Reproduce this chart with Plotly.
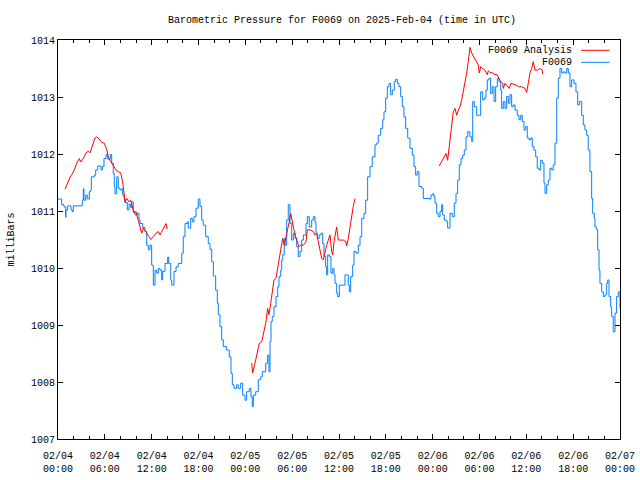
import pandas as pd
import plotly.graph_objects as go

# Hours after 2025-02-04 00:00 UTC, and pressure in millibars
obs_hours = [0.0, 0.47, 0.77, 0.99, 1.02, 1.24, 1.45, 1.67, 1.83, 1.96, 3.04, 3.11, 3.24, 3.33, 3.55, 3.75, 4.01, 4.19, 4.27, 4.65,
             4.83, 5.09, 5.38, 5.51, 5.68, 5.89, 6.15, 6.37, 6.6, 6.7, 6.88, 7.08, 7.21, 7.30, 7.52, 7.72, 7.94, 8.16, 8.29, 8.46,
             8.58, 8.88, 9.10, 9.31, 9.44, 9.65, 9.86, 10.16, 10.38, 10.50, 10.85, 11.15, 11.36, 11.57, 11.79, 12.00, 12.21, 12.43, 12.64, 12.85,
             13.07, 13.28, 13.41, 13.71, 14.05, 14.18, 14.44, 14.57, 14.86, 15.12, 15.41, 15.85, 16.05, 16.27, 16.56, 16.69, 17.00, 17.20, 17.42, 17.68,
             17.97, 18.19, 18.41, 18.61, 18.92, 19.25, 19.47, 19.69, 19.90, 20.20, 20.41, 20.54, 20.75, 20.97, 21.18, 21.61, 21.94, 22.16, 22.33, 22.55,
             22.89, 23.10, 23.41, 23.66, 23.96, 24.17, 24.51, 24.72, 24.89, 25.02, 25.33, 25.66, 25.97, 26.17, 26.39, 26.61, 26.86, 27.03, 27.16, 27.29,
             27.45, 27.67, 27.93, 28.15, 28.31, 28.53, 28.66, 28.79, 28.99, 29.08, 29.30, 29.50, 29.72, 29.94, 30.14, 30.36, 30.58, 30.78, 31.00, 31.22,
             31.43, 31.77, 31.94, 32.19, 32.50, 32.71, 32.92, 33.05, 33.22, 33.47, 33.69, 33.91, 34.08, 34.29, 34.42, 34.55, 34.76, 34.97, 35.19, 35.36,
             35.49, 35.70, 35.83, 36.04, 36.55, 36.77, 36.98, 37.19, 37.32, 37.50, 37.75, 37.92, 38.18, 38.47, 38.69, 38.91, 39.20, 39.42, 39.67, 39.97,
             40.26, 40.61, 40.83, 41.03, 41.34, 41.60, 41.76, 41.98, 42.19, 42.40, 42.62, 42.83, 43.08, 43.26, 43.47, 43.68, 43.90, 44.11, 44.32, 44.54,
             44.80, 45.09, 45.39, 45.61, 45.82, 46.03, 46.25, 46.59, 46.80, 47.57, 47.78, 48.00, 48.17, 48.30, 48.51, 48.72, 48.94, 49.15, 49.28, 49.49,
             49.80, 49.92, 50.22, 50.51, 50.77, 50.99, 51.20, 51.41, 51.63, 51.84, 52.05, 52.27, 52.49, 52.78, 53.00, 53.13, 53.33, 53.64, 53.97, 54.15,
             54.41, 54.61, 54.83, 55.00, 55.21, 55.43, 55.64, 55.86, 56.07, 56.28, 56.49, 56.71, 56.84, 57.05, 57.26, 57.48, 57.69, 57.90, 58.12, 58.33,
             58.55, 58.84, 59.06, 59.28, 59.48, 59.70, 59.92, 60.12, 60.34, 60.56, 60.76, 60.98, 61.20, 61.40, 61.62, 61.84, 62.04, 62.26, 62.39, 62.61,
             62.81, 63.03, 63.25, 63.45, 63.67, 63.89, 64.09, 64.31, 64.53, 64.73, 64.95, 65.17, 65.37, 65.59, 65.81, 66.10, 66.36, 66.58, 66.78, 67.09,
             67.30, 67.51, 67.73, 67.93, 68.15, 68.37, 68.50, 68.71, 68.79, 69.01, 69.14, 69.31, 69.43, 69.65, 69.86, 70.07, 70.29, 70.42, 70.59, 70.80,
             70.93, 71.14, 71.36, 71.57, 71.78, 72.0]
obs_mbar = [1011.21, 1011.11, 1011.07, 1010.89, 1011.02, 1011.09, 1011.09, 1011.02, 1010.99, 1011.09, 1011.09, 1011.19, 1011.39, 1011.19, 1011.28, 1011.21, 1011.34, 1011.37, 1011.60, 1011.63,
            1011.72, 1011.79, 1011.79, 1011.72, 1011.78, 1011.92, 1011.99, 1011.91, 1011.91, 1011.99, 1011.84, 1011.66, 1011.43, 1011.30, 1011.60, 1011.40, 1011.37, 1011.39, 1011.28, 1011.22,
            1011.15, 1011.02, 1011.12, 1011.06, 1011.16, 1010.99, 1010.93, 1010.96, 1010.84, 1010.78, 1010.71, 1010.64, 1010.40, 1010.32, 1010.40, 1010.05, 1009.70, 1009.96, 1009.91, 1009.99,
            1009.96, 1009.79, 1009.94, 1010.08, 1010.19, 1010.08, 1009.79, 1009.70, 1009.94, 1010.02, 1010.08, 1010.26, 1010.55, 1010.78, 1010.81, 1010.70, 1010.87, 1010.81, 1010.90, 1011.05,
            1011.21, 1011.08, 1010.84, 1010.75, 1010.55, 1010.43, 1010.33, 1010.11, 1009.86, 1009.61, 1009.38, 1009.18, 1008.97, 1008.74, 1008.62, 1008.56, 1008.44, 1008.15, 1007.95, 1007.89,
            1007.95, 1007.89, 1007.98, 1007.77, 1007.68, 1007.83, 1007.89, 1007.74, 1007.57, 1007.77, 1007.83, 1008.04, 1008.09, 1008.18, 1008.18, 1008.33, 1008.47, 1008.18, 1008.71, 1009.06,
            1009.15, 1009.32, 1009.50, 1009.67, 1009.85, 1009.96, 1010.14, 1010.23, 1010.52, 1010.40, 1010.84, 1011.11, 1010.78, 1010.49, 1010.61, 1010.52, 1010.37, 1010.20, 1010.29, 1010.49,
            1010.58, 1010.78, 1010.90, 1010.72, 1010.84, 1010.90, 1010.81, 1010.61, 1010.52, 1010.58, 1010.61, 1010.43, 1010.20, 1010.02, 1009.88, 1010.23, 1010.20, 1009.91, 1009.99, 1009.88,
            1009.73, 1009.56, 1009.50, 1009.70, 1009.70, 1009.88, 1009.88, 1009.70, 1009.58, 1009.85, 1010.05, 1010.29, 1010.26, 1010.40, 1010.55, 1010.87, 1010.96, 1011.19, 1011.60, 1011.78,
            1011.95, 1012.16, 1012.19, 1012.33, 1012.45, 1012.60, 1012.74, 1012.98, 1013.18, 1013.24, 1013.04, 1013.12, 1013.27, 1013.31, 1013.24, 1013.18, 1013.01, 1012.83, 1012.65, 1012.45,
            1012.28, 1012.10, 1011.98, 1011.78, 1011.63, 1011.69, 1011.43, 1011.40, 1011.22, 1011.21, 1011.28, 1011.30, 1011.25, 1011.14, 1010.96, 1010.90, 1010.99, 1011.11, 1010.93, 1010.84,
            1010.81, 1010.70, 1010.96, 1010.90, 1011.14, 1011.31, 1011.54, 1011.81, 1011.92, 1011.98, 1012.07, 1012.30, 1012.39, 1012.30, 1012.22, 1012.92, 1012.83, 1012.68, 1012.68, 1013.09,
            1012.95, 1012.98, 1013.12, 1013.30, 1013.33, 1013.06, 1013.18, 1012.92, 1013.18, 1013.33, 1013.27, 1013.12, 1012.80, 1012.92, 1012.80, 1013.01, 1012.89, 1013.04, 1012.83, 1012.86,
            1012.77, 1012.68, 1012.60, 1012.68, 1012.57, 1012.42, 1012.48, 1012.28, 1012.25, 1012.28, 1012.13, 1012.07, 1011.95, 1011.75, 1011.72, 1011.89, 1011.84, 1011.49, 1011.31, 1011.46,
            1011.54, 1011.75, 1011.72, 1011.81, 1012.19, 1012.98, 1013.33, 1013.50, 1013.42, 1013.44, 1013.42, 1013.50, 1013.42, 1013.18, 1013.30, 1013.24, 1013.09, 1012.86, 1012.92, 1012.68,
            1012.51, 1012.42, 1012.33, 1012.07, 1011.69, 1011.22, 1010.96, 1010.87, 1010.72, 1010.67, 1010.32, 1009.96, 1009.73, 1009.58, 1009.50, 1009.53, 1009.73, 1009.79, 1009.50, 1009.32,
            1009.15, 1008.88, 1009.21, 1009.50, 1009.58, 1009.29]

# Analysis series: three runs separated by gaps (None)
ana_hours = [0.90, 1.19, 1.54, 1.83, 2.09, 2.40, 2.73, 2.91, 3.24, 3.59, 3.88, 4.10, 4.45, 4.74, 4.96, 5.29, 5.60, 5.93, 6.24, 6.44,
             6.66, 6.88, 7.17, 7.43, 7.72, 8.03, 8.29, 8.46, 8.58, 8.80, 9.10, 9.31, 9.52, 9.74, 9.99, 10.16, 10.50, 10.72, 10.93, 11.36,
             11.91, 12.21, 12.55, 12.85, 13.07, 13.41, 13.71, 13.84, 14.00, None,
             24.81, 24.94, 25.24, 25.53, 25.79, 26.10, 26.30, 26.61, 26.86, 27.03, 27.25, 27.45, 27.67, 27.93, 28.15, 28.35, 28.57, 28.79, 28.99, 29.21,
             29.43, 29.63, 29.81, 30.02, 30.23, 30.45, 30.66, 30.87, 31.09, 31.43, 31.77, 31.94, 32.28, 32.71, 32.92, 33.14, 33.35, 33.56, 33.78, 33.99,
             34.20, 34.42, 34.63, 34.85, 35.06, 35.19, 35.36, 35.57, 35.70, 35.91, 36.55, 36.89, 36.98, 37.19, 37.41, 37.62, 37.83, 38.05, None,
             48.85, 49.15, 49.45, 49.71, 49.92, 50.00, 50.22, 50.44, 50.64, 50.86, 51.08, 51.28, 51.50, 51.72, 51.92, 52.14, 52.36, 52.56, 52.78, 53.00,
             53.33, 53.64, 53.85, 53.97, 54.15, 54.41, 54.70, 55.00, 55.13, 55.34, 55.69, 55.98, 56.20, 56.49, 56.71, 56.97, 57.05, 57.26, 57.56, 57.82,
             58.03, 58.33, 58.67, 58.97, 59.40, 59.83, 60.04, 60.25, 60.47, 60.68, 60.89, 61.11, 61.40, 61.75, 62.04, 62.09]
ana_mbar = [1011.38, 1011.49, 1011.59, 1011.65, 1011.72, 1011.84, 1011.92, 1011.86, 1011.92, 1012.02, 1012.05, 1012.02, 1012.16, 1012.28, 1012.30, 1012.26, 1012.20, 1012.19, 1012.08, 1011.95,
            1011.89, 1011.84, 1011.78, 1011.72, 1011.69, 1011.67, 1011.51, 1011.31, 1011.16, 1011.22, 1011.16, 1011.19, 1011.08, 1010.96, 1010.99, 1010.90, 1010.72, 1010.61, 1010.70, 1010.61,
            1010.50, 1010.55, 1010.61, 1010.64, 1010.58, 1010.67, 1010.75, 1010.78, 1010.68, None,
            1008.33, 1008.16, 1008.33, 1008.53, 1008.68, 1008.71, 1008.85, 1009.03, 1009.29, 1009.18, 1009.38, 1009.61, 1009.79, 1009.82, 1010.02, 1010.23, 1010.35, 1010.52, 1010.40, 1010.55,
            1010.67, 1010.81, 1010.96, 1010.78, 1010.67, 1010.55, 1010.46, 1010.37, 1010.40, 1010.40, 1010.46, 1010.67, 1010.67, 1010.64, 1010.58, 1010.61, 1010.46, 1010.32, 1010.17, 1010.14,
            1010.29, 1010.40, 1010.49, 1010.58, 1010.29, 1010.23, 1010.46, 1010.61, 1010.72, 1010.49, 1010.49, 1010.46, 1010.39, 1010.52, 1010.72, 1010.93, 1011.08, 1011.22, None,
            1011.79, 1011.86, 1011.95, 1012.01, 1011.89, 1011.98, 1012.28, 1012.48, 1012.74, 1012.80, 1012.68, 1012.77, 1012.83, 1012.95, 1013.09, 1013.24, 1013.42, 1013.62, 1013.87, 1013.77,
            1013.68, 1013.62, 1013.56, 1013.42, 1013.53, 1013.50, 1013.47, 1013.39, 1013.46, 1013.43, 1013.42, 1013.39, 1013.40, 1013.33, 1013.27, 1013.24, 1013.15, 1013.24, 1013.18, 1013.15,
            1013.24, 1013.23, 1013.21, 1013.18, 1013.18, 1013.15, 1013.08, 1013.24, 1013.42, 1013.50, 1013.62, 1013.47, 1013.47, 1013.50, 1013.47, 1013.40]

tick_hours = [0, 6, 12, 18, 24, 30, 36, 42, 48, 54, 60, 66, 72]
tick_labels = ["02/04<br>00:00", "02/04<br>06:00", "02/04<br>12:00", "02/04<br>18:00",
               "02/05<br>00:00", "02/05<br>06:00", "02/05<br>12:00", "02/05<br>18:00",
               "02/06<br>00:00", "02/06<br>06:00", "02/06<br>12:00", "02/06<br>18:00",
               "02/07<br>00:00"]
y_ticks = [1007, 1008, 1009, 1010, 1011, 1012, 1013, 1014]

base = pd.Timestamp("2025-02-04 00:00")


def to_time(hours):
    return [None if h is None else base + pd.Timedelta(hours=h) for h in hours]


FONT = "Liberation Mono, DejaVu Sans Mono, monospace"
RED = "#ff0000"
BLUE = "#0080ff"

fig = go.Figure()
fig.add_trace(go.Scatter(x=to_time(obs_hours), y=obs_mbar, mode="lines", name="F0069",
                         line=dict(color=BLUE, width=1, shape="hv"), connectgaps=False))
fig.add_trace(go.Scatter(x=to_time(ana_hours), y=ana_mbar, mode="lines", name="F0069 Analysis",
                         line=dict(color=RED, width=1), connectgaps=False))

fig.update_layout(
    width=640, height=480,
    margin=dict(l=58, r=20, t=40, b=41, pad=0, autoexpand=False),
    paper_bgcolor="white", plot_bgcolor="white",
    showlegend=False,
    font=dict(family=FONT, size=10, color="black"),
    title=dict(text="Barometric Pressure for F0069 on 2025-Feb-04 (time in UTC)",
               x=342 / 640, xanchor="center", y=1 - 19 / 480, yanchor="middle",
               font=dict(family=FONT, size=10, color="black")),
)

fig.update_xaxes(
    range=[base, base + pd.Timedelta(hours=72)],
    tickmode="array", tickvals=to_time(tick_hours), ticktext=tick_labels,
    ticks="inside", ticklen=5, tickwidth=1, tickcolor="black",
    minor=dict(dtick=2 * 3600 * 1000, tick0=base, ticks="inside", ticklen=3, tickcolor="black", showgrid=False),
    showline=True, linecolor="black", linewidth=1, mirror="allticks",
    showgrid=False, zeroline=False, tickangle=0, ticklabelstandoff=7, automargin=False,
    tickfont=dict(family=FONT, size=10, color="black"),
)
fig.update_yaxes(
    range=[1007, 1014], tickmode="array", tickvals=y_ticks,
    ticks="inside", ticklen=5, tickwidth=1, tickcolor="black",
    showline=True, linecolor="black", linewidth=1, mirror="allticks",
    showgrid=False, zeroline=False, automargin=False,
    tickfont=dict(family=FONT, size=10, color="black"),
)

# y-axis title
fig.add_annotation(text="milliBars", xref="paper", yref="paper", x=(11 - 58) / 562, y=0.5,
                   xanchor="center", yanchor="middle", textangle=-90, showarrow=False,
                   font=dict(family=FONT, size=10, color="black"))

# legend drawn gnuplot-style (text right, sample line right of it)
legend_rows = [("F0069 Analysis", RED, 1 - (50.3 - 40) / 399), ("F0069", BLUE, 1 - (62.3 - 40) / 399)]
for label, color, yy in legend_rows:
    fig.add_annotation(text=label, xref="paper", yref="paper", x=(574 - 58) / 562, y=yy,
                       xanchor="right", yanchor="middle", showarrow=False,
                       font=dict(family=FONT, size=10, color="black"))
    fig.add_shape(type="line", xref="paper", yref="paper", x0=(581 - 58) / 562, x1=(609.5 - 58) / 562,
                  y0=yy, y1=yy, line=dict(color=color, width=1))

# remove the browser's default 8px page margin so the figure sits at the window's corner
fig.write_html("out.html", config={"displayModeBar": False, "staticPlot": True},
               post_script="document.body.style.margin='0';")
